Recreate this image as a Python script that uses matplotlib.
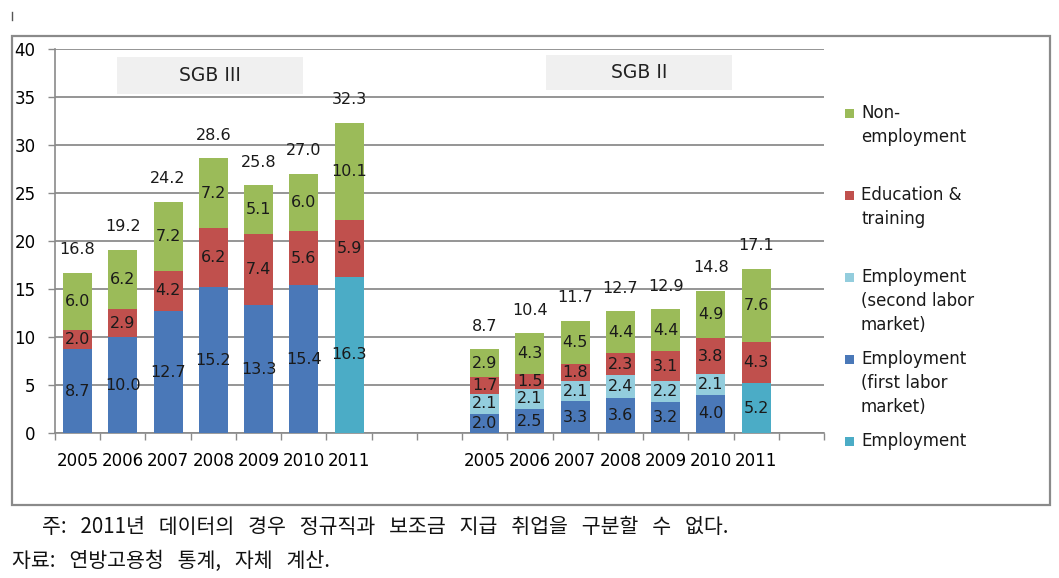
import matplotlib.pyplot as plt
from matplotlib.patches import Rectangle
from matplotlib.lines import Line2D

##########################################
# Data
years = ["2005", "2006", "2007", "2008", "2009", "2010", "2011"]

# SGB III
sgb3_first = [8.7, 10.0, 12.7, 15.2, 13.3, 15.4, 0]
sgb3_second = [0, 0, 0, 0, 0, 0, 0]
sgb3_employment = [0, 0, 0, 0, 0, 0, 16.3]
sgb3_education = [2.0, 2.9, 4.2, 6.2, 7.4, 5.6, 5.9]
sgb3_nonemp = [6.0, 6.2, 7.2, 7.2, 5.1, 6.0, 10.1]
sgb3_total = [16.8, 19.2, 24.2, 28.6, 25.8, 27.0, 32.3]

# SGB II
sgb2_first = [2.0, 2.5, 3.3, 3.6, 3.2, 4.0, 0]
sgb2_second = [2.1, 2.1, 2.1, 2.4, 2.2, 2.1, 0]
sgb2_employment = [0, 0, 0, 0, 0, 0, 5.2]
sgb2_education = [1.7, 1.5, 1.8, 2.3, 3.1, 3.8, 4.3]
sgb2_nonemp = [2.9, 4.3, 4.5, 4.4, 4.4, 4.9, 7.6]
sgb2_total = [8.7, 10.4, 11.7, 12.7, 12.9, 14.8, 17.1]

legend_labels = ["Non-\nemployment", "Education &\ntraining",
                 "Employment\n(second labor\nmarket)",
                 "Employment\n(first labor\nmarket)", "Employment"]

note_text = "주: 2011년 데이터의 경우 정규직과 보조금 지급 취업을 구분할 수 없다."
source_text = "자료: 연방고용청 통계, 자체 계산."

##########################################
# Colours
C_GREEN = "#9BBB59"
C_RED = "#C0504D"
C_LIGHT = "#93CDDD"
C_BLUE = "#4A78B8"
C_TEAL = "#4BACC6"
legend_colors = [C_GREEN, C_RED, C_LIGHT, C_BLUE, C_TEAL]

plt.rcParams['font.family'] = ['DejaVu Sans']

fig = plt.figure(figsize=(10.59, 5.78), dpi=100)
W, H = 1059, 578

# outer chart frame
fig.add_artist(Rectangle((12 / W, 1 - 505 / H), (1050 - 12) / W, (505 - 36) / H,
                         transform=fig.transFigure, fill=False,
                         edgecolor="#8a8a8a", linewidth=1.6))
fig.add_artist(Line2D([12 / W, 12 / W], [1 - 12 / H, 1 - 20 / H],
                      transform=fig.transFigure, color="#555555", linewidth=1))

ax = fig.add_axes([55 / W, 1 - 433 / H, (824 - 55) / W, (433 - 49) / H])

x_left = list(range(0, 7))
x_right = list(range(9, 16))
bw = 0.64


def stacked(xs, first, second, emp, edu, non, total):
    b0 = [0] * len(xs)
    segs = [(first, C_BLUE), (emp, C_TEAL), (second, C_LIGHT),
            (edu, C_RED), (non, C_GREEN)]
    for vals, col in segs:
        ax.bar(xs, vals, bw, bottom=b0, color=col, zorder=3)
        for x, v, b in zip(xs, vals, b0):
            if v > 0:
                ax.text(x, b + v / 2, f"{v:.1f}", ha="center", va="center",
                        fontsize=11.5, color="#1a1a1a", zorder=4)
        b0 = [b + v for b, v in zip(b0, vals)]
    for x, b, t in zip(xs, b0, total):
        ax.annotate(f"{t:.1f}", (x, b), xytext=(0, 23), textcoords="offset pixels",
                    ha="center", va="center", fontsize=11.5, color="#1a1a1a")


stacked(x_left, sgb3_first, sgb3_second, sgb3_employment, sgb3_education,
        sgb3_nonemp, sgb3_total)
stacked(x_right, sgb2_first, sgb2_second, sgb2_employment, sgb2_education,
        sgb2_nonemp, sgb2_total)

ax.set_xlim(-0.5, 16.5)
ax.set_ylim(0, 40)
ax.set_yticks(range(0, 41, 5))
ax.set_xticks(x_left + x_right)
ax.set_xticklabels(years + years)
ax.set_xticks([k - 0.5 for k in range(18)], minor=True)
ax.tick_params(axis="x", which="major", length=0, pad=14, labelsize=12)
ax.tick_params(axis="x", which="minor", length=5, color="#8a8a8a", width=1)
ax.tick_params(axis="y", length=5, color="#8a8a8a", width=1, pad=9, labelsize=12)
ax.grid(axis="y", color="#8c8c8c", linewidth=1.3, zorder=0)
ax.set_axisbelow(True)
for s in ["top", "right"]:
    ax.spines[s].set_visible(False)
ax.spines["left"].set_color("#8a8a8a")
ax.spines["bottom"].set_color("#8a8a8a")
ax.spines["left"].set_linewidth(1.2)
ax.spines["bottom"].set_linewidth(1.2)

# panel title boxes
for (x0, y0, x1, y1, label) in [(117, 57, 303, 94, "SGB III"), (546, 55, 732, 90, "SGB II")]:
    fig.add_artist(Rectangle((x0 / W, 1 - y1 / H), (x1 - x0) / W, (y1 - y0) / H,
                             transform=fig.transFigure, facecolor="#f0f0f0",
                             edgecolor="none", zorder=5))
    fig.text((x0 + x1) / 2 / W, 1 - (y0 + y1) / 2 / H, label, ha="center",
             va="center", fontsize=13.5, color="#222222", zorder=6)

# legend, drawn by hand to keep Excel's even spacing
for i, (lab, col) in enumerate(zip(legend_labels, legend_colors)):
    yc = 113 + i * 82
    fig.add_artist(Rectangle((845 / W, 1 - (yc + 4.5) / H), 9 / W, 9 / H,
                             transform=fig.transFigure, facecolor=col,
                             edgecolor="none"))
    fig.text(861 / W, 1 - (yc - 9) / H, lab, ha="left", va="top", fontsize=12,
             color="#1a1a1a", linespacing=1.42)

# Korean notes below the chart (wide word gaps as in the source document)
kr = ["Noto Sans CJK KR", "DejaVu Sans"]
fig.text(42 / W, 1 - 527 / H, note_text.replace(" ", "   "), ha="left",
         va="center", fontsize=14.8, family=kr, color="#111111")
fig.text(12 / W, 1 - 561 / H, source_text.replace(" ", "   "), ha="left",
         va="center", fontsize=14.8, family=kr, color="#111111")

fig.savefig("out.png", dpi=100)
